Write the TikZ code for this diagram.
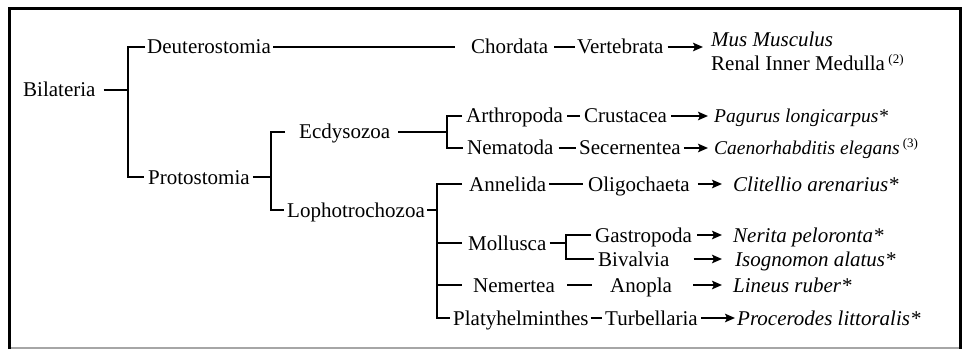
\documentclass[tikz,border=0pt]{standalone}
\usepackage{fontspec}
\setmainfont{Liberation Serif}
\usetikzlibrary{arrows.meta}
\newcommand{\supnote}[1]{\,\raisebox{7.5pt}{\fontsize{13}{13}\selectfont\upshape #1}}
\tikzset{
 t/.style={anchor=west, inner sep=0pt, text height=16pt, text depth=2pt, font=\fontsize{21}{25}\selectfont},
 sp/.style={t, font=\fontsize{21}{25}\selectfont\itshape},
 sps/.style={t, font=\fontsize{19.5}{24}\selectfont\itshape},
 ln/.style={line width=1.3pt},
 arr/.style={line width=1.9pt, -{Stealth[length=10pt,width=8.5pt,inset=2pt]}},
}
\begin{document}
\begin{tikzpicture}[x=1pt,y=-1pt]
\useasboundingbox (0,0) rectangle (964,350);
\draw[line width=2pt, gray!70] (9,348) -- (961,348);
\draw[line width=3pt] (9.5,349) -- (9.5,9) -- (960,9) -- (960,349);

% nodes
\node[t] (bil) at (23,90) {Bilateria};
\node[t] (deu) at (147,47) {Deuterostomia};
\node[t] (pro) at (148,177) {Protostomia};
\node[t] (ecd) at (299,132) {Ecdysozoa};
\node[t] (lop) at (287,210) {Lophotrochozoa};
\node[t] (cho) at (471,47) {Chordata};
\node[t] (ver) at (577,47) {Vertebrata};
\node[sp] (mus) at (711,40) {Mus Musculus};
\node[t] (ren) at (711,64) {Renal Inner Medulla\supnote{(2)}};
\node[t] (art) at (466,116) {Arthropoda};
\node[t] (cru) at (584,116) {Crustacea};
\node[sps] (pag) at (714,116) {Pagurus longicarpus*};
\node[t] (nem) at (467,148) {Nematoda};
\node[t] (sec) at (579,148) {Secernentea};
\node[sps] (cae) at (714,148) {Caenorhabditis elegans\supnote{(3)}};
\node[t] (ann) at (469,184) {Annelida};
\node[t] (oli) at (588,184) {Oligochaeta};
\node[sp] (cli) at (733,184) {Clitellio arenarius*};
\node[t] (mol) at (468,243) {Mollusca};
\node[t] (gas) at (595,235) {Gastropoda};
\node[sp] (ner) at (733,235) {Nerita peloronta*};
\node[t] (biv) at (598,259) {Bivalvia};
\node[sp] (iso) at (735,259) {Isognomon alatus*};
\node[t] (nmr) at (473,285) {Nemertea};
\node[t] (ano) at (610,285) {Anopla};
\node[sp] (lin) at (733,285) {Lineus ruber*};
\node[t] (pla) at (453,318) {Platyhelminthes};
\node[t] (tur) at (605,318) {Turbellaria};
\node[sp] (prc) at (737,318) {Procerodes littoralis*};

% junctions
\coordinate (j1) at (128,90);
\coordinate (j2) at (271,177);
\coordinate (j3) at (447,132);
\coordinate (j4) at (437,210);
\coordinate (j5) at (566,243);

% tree
\draw[ln, shorten <=8pt] (bil.east) -- (j1);
\draw[ln] ([xshift=-2pt]deu.west) -| (j1) |- ([xshift=-4pt]pro.west);
\draw[ln, shorten <=2pt, shorten >=16pt] (deu.east) -- (cho.west);
\draw[ln, shorten <=6pt, shorten >=2pt] (cho.east) -- (ver.west);
\draw[arr, shorten <=4pt, shorten >=8pt] (ver.east) -- (ver.east -| mus.west);

\draw[ln, shorten <=3pt] (pro.east) -- (j2);
\draw[ln] ([xshift=-14pt]ecd.west) -| (j2) |- ([xshift=-3pt]lop.west);
\draw[ln, shorten <=8pt] (ecd.east) -- (j3);
\draw[ln] ([xshift=-4pt]art.west) -| (j3) |- ([xshift=-4pt]nem.west);
\draw[ln, shorten <=4pt, shorten >=4pt] (art.east) -- (cru.west);
\draw[arr, shorten <=4pt, shorten >=6pt] (cru.east) -- (cru.east -| pag.west);
\draw[ln, shorten <=5pt, shorten >=3pt] (nem.east) -- (sec.west);
\draw[arr, shorten <=3pt, shorten >=6pt] (sec.east) -- (sec.east -| cae.west);

\draw[ln, shorten <=2pt] (lop.east) -- (j4);
\draw[ln] ([xshift=-7pt]ann.west) -| (j4) |- ([xshift=-3pt]pla.west);
\draw[ln] (j4 |- mol.west) -- ([xshift=-6pt]mol.west);
\draw[ln] (j4 |- nmr.west) -- ([xshift=-11pt]nmr.west);

\draw[ln, shorten <=3pt, shorten >=5pt] (ann.east) -- (oli.west);
\draw[arr, shorten <=8pt, shorten >=11pt] (oli.east) -- (oli.east -| cli.west);

\draw[ln, shorten <=3pt] (mol.east) -- (j5);
\draw[ln] ([xshift=-4pt]gas.west) -| (j5) |- ([xshift=-4pt]biv.west);
\draw[arr, shorten <=5pt, shorten >=11pt] (gas.east) -- (gas.east -| ner.west);
\draw[arr, shorten <=24pt, shorten >=13pt] (biv.east) -- (biv.east -| iso.west);

\draw[ln, shorten <=12pt, shorten >=18pt] (nmr.east) -- (ano.west);
\draw[arr, shorten <=21pt, shorten >=11pt] (ano.east) -- (ano.east -| lin.west);

\draw[ln, shorten <=2pt, shorten >=3pt] (pla.east) -- (tur.west);
\draw[arr, shorten <=3pt, shorten >=2pt] (tur.east) -- (tur.east -| prc.west);
\end{tikzpicture}
\end{document}
